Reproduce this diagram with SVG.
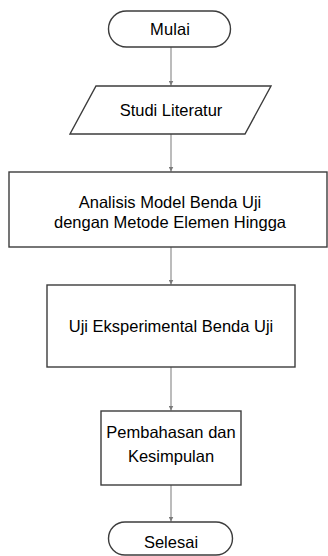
<svg xmlns="http://www.w3.org/2000/svg" width="328" height="556" viewBox="0 0 328 556">
<style>
.s{fill:#fff;stroke:#3c3c3c;stroke-width:1.4}
.t{font-family:"Liberation Sans",Arial,sans-serif;font-size:16.5px;fill:#000;text-anchor:middle}
.c{stroke:#a6a6a6;stroke-width:1.5;fill:none}
</style>
<defs>
<marker id="ah" viewBox="0 0 10 10" refX="10" refY="5" markerWidth="5" markerHeight="5" orient="auto" markerUnits="userSpaceOnUse">
<path d="M0,0 L10,5 L0,10 z" fill="#7a7a7a"/>
</marker>
</defs>
<rect width="328" height="556" fill="#fff"/>
<g id="connectors">
<line class="c" x1="171" y1="47" x2="171" y2="85.5" marker-end="url(#ah)"/>
<line class="c" x1="171" y1="134" x2="171" y2="171.5" marker-end="url(#ah)"/>
<line class="c" x1="171" y1="247" x2="171" y2="284.5" marker-end="url(#ah)"/>
<line class="c" x1="171" y1="367" x2="171" y2="410.5" marker-end="url(#ah)"/>
<line class="c" x1="171" y1="485" x2="171" y2="521.5" marker-end="url(#ah)"/>
</g>
<g id="mulai">
<rect class="s" x="108.5" y="11" width="122" height="36" rx="18" ry="18"/>
<text class="t" x="170" y="35" textLength="40">Mulai</text>
</g>
<g id="studi">
<polygon class="s" points="96,86 271,86 245,134 70,134"/>
<text class="t" x="171" y="116">Studi Literatur</text>
</g>
<g id="analisis">
<rect class="s" x="9" y="172" width="318" height="75"/>
<text class="t" x="170" y="208">Analisis Model Benda Uji</text>
<text class="t" x="170" y="228">dengan Metode Elemen Hingga</text>
</g>
<g id="uji">
<rect class="s" x="47" y="285" width="248" height="82"/>
<text class="t" x="171" y="332">Uji Eksperimental Benda Uji</text>
</g>
<g id="pembahasan">
<rect class="s" x="101" y="411" width="140" height="74"/>
<text class="t" x="171" y="438">Pembahasan dan</text>
<text class="t" x="171" y="462">Kesimpulan</text>
</g>
<g id="selesai">
<rect class="s" x="108.5" y="522" width="124" height="33" rx="16.5" ry="16.5"/>
<text class="t" x="171" y="548">Selesai</text>
</g>
</svg>
